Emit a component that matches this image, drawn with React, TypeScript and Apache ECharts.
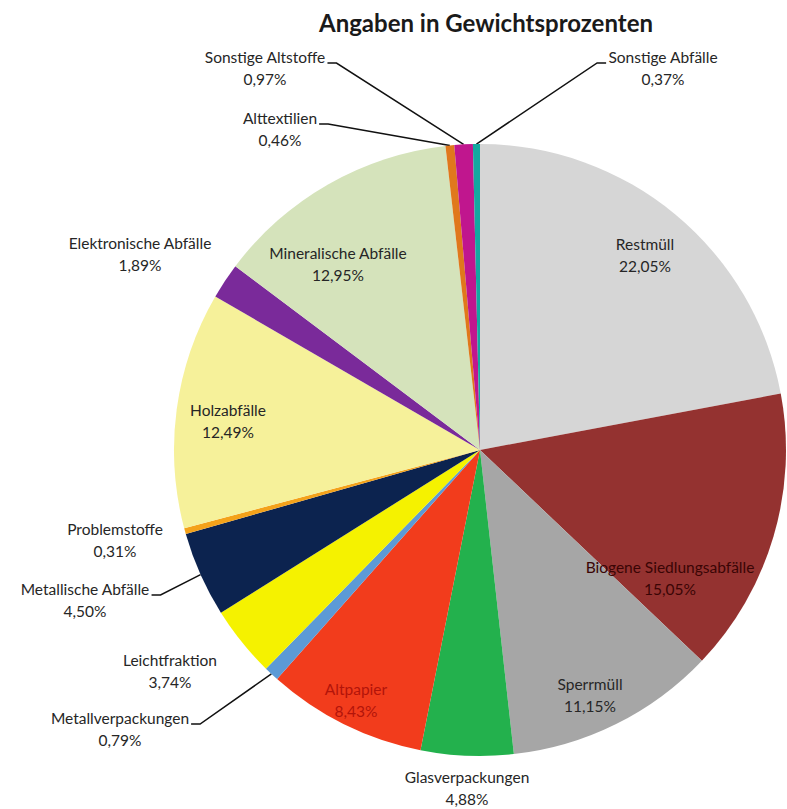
import React, { useEffect, useRef } from "react";
import * as echarts from "echarts";

const categories = [
  "Restmüll",
  "Biogene Siedlungsabfälle",
  "Sperrmüll",
  "Glasverpackungen",
  "Altpapier",
  "Metallverpackungen",
  "Leichtfraktion",
  "Metallische Abfälle",
  "Problemstoffe",
  "Holzabfälle",
  "Elektronische Abfälle",
  "Mineralische Abfälle",
  "Alttextilien",
  "Sonstige Altstoffe",
  "Sonstige Abfälle",
];
const shares = [22.05, 15.05, 11.15, 4.88, 8.43, 0.79, 3.74, 4.5, 0.31, 12.49, 1.89, 12.95, 0.46, 0.97, 0.37];

const colors = [
  "#d6d6d6", "#943230", "#a6a6a6", "#23b14d", "#f23c1c", "#5c9ad6", "#f5f200", "#0c234f",
  "#f4a21a", "#f6f19a", "#7a2a9a", "#d5e3bb", "#e0781c", "#c0168e", "#13a8a0",
];
const labelColors = [
  "#262626", "#3a0505", "#262626", "#262626", "#b3140a", "#262626", "#262626", "#262626",
  "#262626", "#262626", "#262626", "#262626", "#262626", "#262626", "#262626",
];
// label centres (layout, px)
const labelPos: [number, number][] = [
  [645, 255], [670, 578], [590, 695], [467, 788], [356, 700], [120, 729], [170, 671], [85, 600],
  [115, 540], [228, 421], [140, 254], [338, 264], [280, 129], [265, 68], [663, 68],
];
const lineSide: (string | null)[] = [
  null, null, null, null, null, "left", null, "left", null, null, null, null, "left", "left", "right",
];
const insideLabel = [true, true, true, false, true, false, false, false, false, true, false, true, false, false, false];

const CX = 480;
const CY = 450;
const R = 306;

export default function App() {
  const ref = useRef<HTMLDivElement>(null);
  useEffect(() => {
    document.body.style.margin = "0";
    const chart = echarts.init(ref.current!, null, { renderer: "svg" });
    const total = shares.reduce((a, b) => a + b, 0);
    const midAngle = (i: number) => {
      let c = 0;
      for (let k = 0; k < i; k++) c += shares[k];
      return ((c + shares[i] / 2) / total) * Math.PI * 2;
    };
    const fmt = (v: number) => v.toFixed(2).replace(".", ",") + "%";
    chart.setOption({
      animation: false,
      backgroundColor: "#ffffff",
      graphic: [
        {
          type: "text",
          x: 486,
          y: 22,
          style: {
            text: "Angaben in Gewichtsprozenten",
            font: "bold 24px Lato",
            fill: "#1a1a1a",
            align: "center",
            verticalAlign: "middle",
          },
        },
      ],
      series: [
        {
          type: "pie",
          center: [CX, CY],
          radius: [0, R],
          startAngle: 90,
          clockwise: true,
          avoidLabelOverlap: false,
          data: categories.map((name, i) => ({
            name,
            value: shares[i],
            itemStyle: { color: colors[i] },
            label: {
              show: true,
              position: insideLabel[i] ? "inside" : "outside",
              formatter: (p: any) => p.name + "\n" + fmt(p.value),
              color: labelColors[i],
              fontFamily: "Lato",
              fontSize: 15.5,
              lineHeight: 22,
              align: "center",
            },
            labelLine: {
              show: !!lineSide[i],
              lineStyle: { color: "#111", width: 1.5 },
            },
          })),
          labelLayout: (p: any) => {
            const i = p.dataIndex;
            const [lx, ly] = labelPos[i];
            const res: any = { x: lx, y: ly, align: "center", verticalAlign: "middle" };
            const side = lineSide[i];
            if (side) {
              const w = p.labelRect.width;
              const a = midAngle(i);
              const ex = CX + R * Math.sin(a);
              const ey = CY - R * Math.cos(a);
              const ty = ly - 5;
              if (side === "left") {
                const t0 = lx + w / 2 + 2;
                res.labelLinePoints = [[ex, ey], [t0 + 9, ty], [t0, ty]];
              } else {
                const t0 = lx - w / 2 - 2;
                res.labelLinePoints = [[ex, ey], [t0 - 9, ty], [t0, ty]];
              }
            }
            return res;
          },
        },
      ],
    });
    return () => chart.dispose();
  }, []);
  return <div ref={ref} style={{ width: 787, height: 809 }} />;
}
